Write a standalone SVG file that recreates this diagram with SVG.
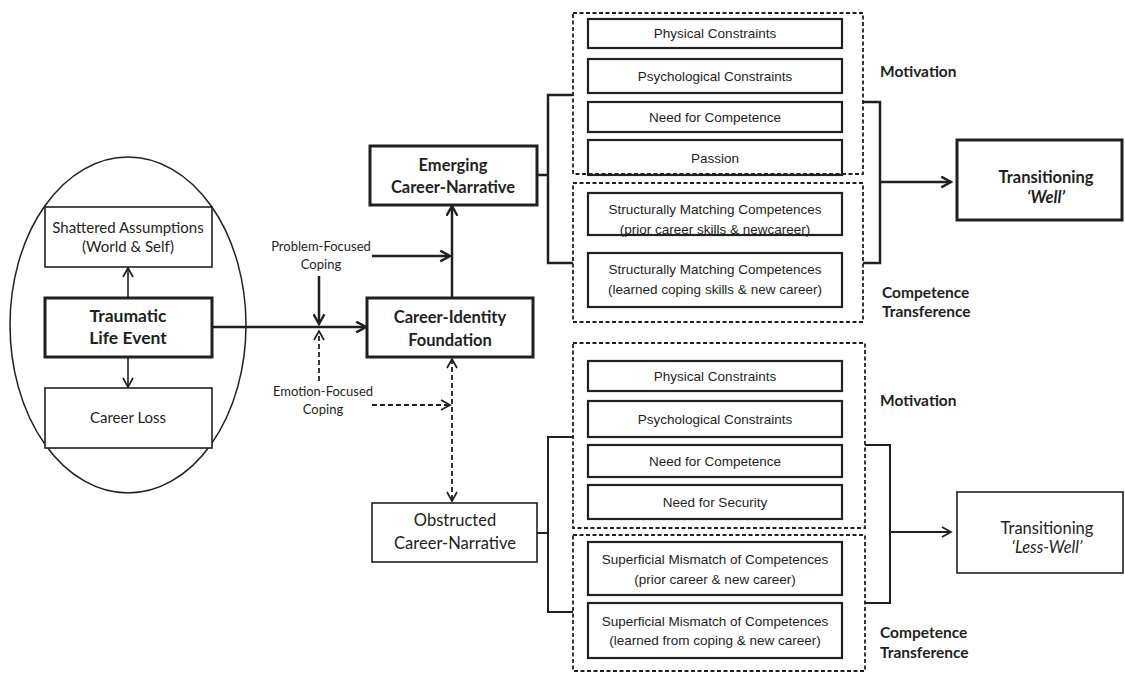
<svg xmlns="http://www.w3.org/2000/svg" width="1125" height="673" viewBox="0 0 1125 673">
<defs>
<style>
.c{font-family:Lato,"Open Sans","Liberation Sans",sans-serif;fill:#231f20;text-anchor:middle}
.cb{font-family:Lato,"Open Sans","Liberation Sans",sans-serif;fill:#231f20;font-weight:bold}
.n{font-family:"Liberation Sans",Arial,sans-serif;fill:#231f20;text-anchor:middle;font-size:13.5px}
.box{fill:#fff;stroke:#231f20}
.thick{stroke-width:3}
.thin{stroke-width:1.6}
.inner{fill:#fff;stroke:#231f20;stroke-width:2.2}
.dash{fill:none;stroke:#231f20;stroke-width:1.8;stroke-dasharray:4 2.5}
.ln{fill:none;stroke:#231f20}
</style>
<marker id="a" viewBox="0 0 12 12" refX="10.5" refY="6" markerWidth="13" markerHeight="13" markerUnits="userSpaceOnUse" orient="auto-start-reverse">
<path d="M1.5,1 L10.5,6 L1.5,11" fill="none" stroke="#231f20" stroke-width="2.2" stroke-dasharray="none"/>
</marker>
<marker id="at" viewBox="0 0 12 12" refX="10.5" refY="6" markerWidth="12" markerHeight="12" markerUnits="userSpaceOnUse" orient="auto-start-reverse">
<path d="M1.5,1 L10.5,6 L1.5,11" fill="none" stroke="#231f20" stroke-width="1.7" stroke-dasharray="none"/>
</marker>
</defs>
<rect width="1125" height="673" fill="#fff"/>

<g id="ellipse">
<ellipse cx="128" cy="325" rx="118" ry="168" fill="none" stroke="#231f20" stroke-width="1.5"/>
</g>

<g id="connectors">
<line class="ln" x1="128" y1="298" x2="128" y2="268" stroke-width="1.6" marker-end="url(#at)"/>
<line class="ln" x1="128" y1="357" x2="128" y2="387" stroke-width="1.6" marker-end="url(#at)"/>
<line class="ln" x1="212" y1="327" x2="366" y2="327" stroke-width="2.5" marker-end="url(#a)"/>
<line class="ln" x1="319" y1="276" x2="319" y2="324" stroke-width="2.5" marker-end="url(#a)"/>
<line class="ln" x1="319" y1="381" x2="319" y2="331" stroke-width="1.8" stroke-dasharray="5 3" marker-end="url(#at)"/>
<line class="ln" x1="372" y1="256" x2="450" y2="256" stroke-width="2.5" marker-end="url(#a)"/>
<line class="ln" x1="372" y1="405" x2="450" y2="405" stroke-width="1.8" stroke-dasharray="5 3" marker-end="url(#at)"/>
<line class="ln" x1="452" y1="298" x2="452" y2="206" stroke-width="2.5" marker-end="url(#a)"/>
<line class="ln" x1="452" y1="359" x2="452" y2="501" stroke-width="1.8" stroke-dasharray="5 3" marker-start="url(#at)" marker-end="url(#at)"/>
<path class="ln" d="M537,175 H548 M573,95 H548 V263 H573" stroke-width="2.5"/>
<path class="ln" d="M863,102 H880 V263 H863 M880,182 H951" stroke-width="2.5" marker-end="url(#a)"/>
<path class="ln" d="M537,533 H548 M573,437 H548 V612 H573" stroke-width="2"/>
<path class="ln" d="M865,445 H890 V603 H865 M890,532 H951" stroke-width="2" marker-end="url(#at)"/>
</g>

<g id="shattered">
<rect class="box thin" x="45" y="207" width="167" height="60"/>
<text class="c" font-size="15" x="128" y="233">Shattered Assumptions</text>
<text class="c" font-size="15" x="128" y="252">(World &amp; Self)</text>
</g>
<g id="traumatic">
<rect class="box thick" x="45" y="298" width="167" height="59"/>
<text class="c" font-size="17.5" font-weight="bold" x="128" y="322">Traumatic</text>
<text class="c" font-size="17.5" font-weight="bold" x="128" y="344">Life Event</text>
</g>
<g id="careerloss">
<rect class="box thin" x="45" y="388" width="167" height="60"/>
<text class="c" font-size="15" x="128" y="423">Career Loss</text>
</g>

<g id="problem">
<text class="c" font-size="13" x="321" y="251">Problem-Focused</text>
<text class="c" font-size="13" x="321" y="269">Coping</text>
</g>
<g id="emotion">
<text class="c" font-size="13" x="323" y="396">Emotion-Focused</text>
<text class="c" font-size="13" x="323" y="414">Coping</text>
</g>

<g id="emerging">
<rect class="box thick" x="370" y="146" width="167" height="59"/>
<text class="c" font-size="16.5" font-weight="bold" x="453" y="171">Emerging</text>
<text class="c" font-size="16.5" font-weight="bold" x="453" y="193">Career-Narrative</text>
</g>
<g id="cif">
<rect class="box thick" x="367" y="298" width="166" height="59"/>
<text class="c" font-size="16.5" font-weight="bold" x="450" y="323">Career-Identity</text>
<text class="c" font-size="16.5" font-weight="bold" x="450" y="346">Foundation</text>
</g>
<g id="obstructed">
<rect class="box thin" x="372" y="503" width="165" height="59"/>
<text class="c" font-size="16.5" x="455" y="526">Obstructed</text>
<text class="c" font-size="16.5" x="455" y="549">Career-Narrative</text>
</g>

<g id="top-motivation">
<rect class="inner" x="588" y="19" width="254" height="29"/>
<text class="n" x="715" y="38">Physical Constraints</text>
<rect class="inner" x="588" y="59" width="254" height="34"/>
<text class="n" x="715" y="81">Psychological Constraints</text>
<rect class="inner" x="588" y="102" width="254" height="30"/>
<text class="n" x="715" y="122">Need for Competence</text>
<rect class="inner" x="588" y="140" width="254" height="35"/>
<text class="n" x="715" y="163">Passion</text>
<rect class="dash" x="573" y="13" width="290" height="161"/>
</g>
<g id="top-competence">
<rect class="dash" x="573" y="183" width="290" height="139"/>
<rect class="inner" x="588" y="193" width="254" height="42"/>
<text class="n" x="715" y="214">Structurally Matching Competences</text>
<text class="n" x="715" y="234">(prior career skills &amp; newcareer)</text>
<rect class="inner" x="588" y="253" width="254" height="54"/>
<text class="n" x="715" y="274">Structurally Matching Competences</text>
<text class="n" x="715" y="294">(learned coping skills &amp; new career)</text>
</g>

<g id="bottom-motivation">
<rect class="dash" x="573" y="343" width="292" height="185"/>
<rect class="inner" x="588" y="361" width="254" height="30"/>
<text class="n" x="715" y="381">Physical Constraints</text>
<rect class="inner" x="588" y="401" width="254" height="36"/>
<text class="n" x="715" y="424">Psychological Constraints</text>
<rect class="inner" x="588" y="445" width="254" height="32"/>
<text class="n" x="715" y="466">Need for Competence</text>
<rect class="inner" x="588" y="485" width="254" height="34"/>
<text class="n" x="715" y="507">Need for Security</text>
</g>
<g id="bottom-competence">
<rect class="dash" x="573" y="535" width="292" height="136"/>
<rect class="inner" x="588" y="542" width="254" height="53"/>
<text class="n" x="715" y="564">Superficial Mismatch of Competences</text>
<text class="n" x="715" y="584">(prior career &amp; new career)</text>
<rect class="inner" x="588" y="603" width="254" height="55"/>
<text class="n" x="715" y="626">Superficial Mismatch of Competences</text>
<text class="n" x="715" y="645">(learned from coping &amp; new career)</text>
</g>

<g id="labels">
<text class="cb" font-size="15.5" x="880" y="77">Motivation</text>
<text class="cb" font-size="15.5" x="882" y="298">Competence</text>
<text class="cb" font-size="15.5" x="882" y="317">Transference</text>
<text class="cb" font-size="15.5" x="880" y="406">Motivation</text>
<text class="cb" font-size="15.5" x="880" y="638">Competence</text>
<text class="cb" font-size="15.5" x="880" y="658">Transference</text>
</g>

<g id="well">
<rect class="box thick" x="957" y="140" width="165" height="80"/>
<text class="c" font-size="16.5" font-weight="bold" x="1046" y="183">Transitioning</text>
<text class="c" font-size="16.5" font-weight="bold" font-style="italic" x="1046" y="203">‘Well’</text>
</g>
<g id="lesswell">
<rect class="box thin" x="957" y="492" width="166" height="81"/>
<text class="c" font-size="16.5" x="1047" y="534">Transitioning</text>
<text class="c" font-size="16.5" font-style="italic" x="1047" y="553">‘Less-Well’</text>
</g>
</svg>
